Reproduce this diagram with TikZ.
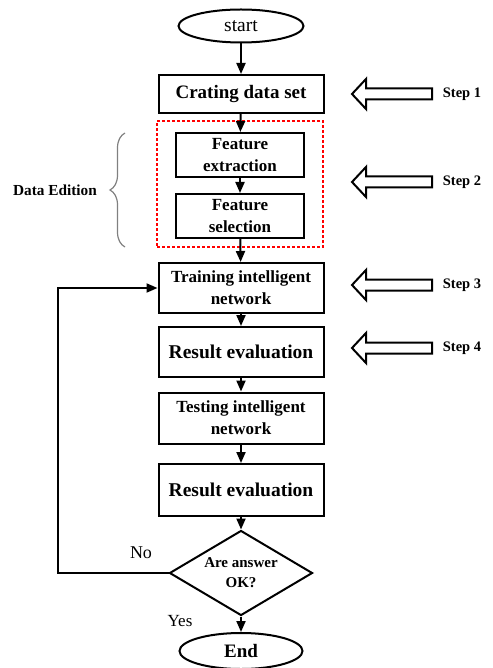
\documentclass[tikz,border=0pt]{standalone}
\usepackage{fontspec}
\setmainfont{Liberation Serif}
\usetikzlibrary{shapes.geometric,arrows.meta,decorations.pathreplacing}
\begin{document}
\begin{tikzpicture}[x=1pt,y=-1pt,
  box/.style={draw,line width=2pt,inner sep=0pt,align=center,font=\bfseries\fontsize{17}{22}\selectfont},
  wide/.style={box,minimum width=165pt},
  narrow/.style={box,minimum width=128pt,minimum height=44pt},
  oval/.style={draw,ellipse,line width=2pt,inner sep=0pt,minimum width=125pt,minimum height=33pt},
  arr/.style={line width=2pt,-{Triangle[length=11pt,width=9pt]}},
  steplbl/.style={font=\bfseries\fontsize{14.5}{16}\selectfont},
  hollow/.style={draw,line width=2pt,line join=miter}
]
\useasboundingbox (0,0) rectangle (492,668);
% main nodes
\node[oval,font=\fontsize{19.5}{22}\selectfont] (start) at (241,26) {start};
\node[wide,minimum height=38pt,font=\bfseries\fontsize{19}{22}\selectfont] (crate) at (241,94) {Crating data set};
\node[draw=red,dashed,dash pattern=on 3pt off 2pt,line width=1.8pt,minimum width=166pt,minimum height=126pt,inner sep=0pt] (grp) at (240,184) {};
\node[narrow] (fe) at (240,155) {Feature\\extraction};
\node[narrow] (fs) at (240,216) {Feature\\selection};
\node[wide,minimum height=50pt] (train) at (241,288) {Training intelligent\\network};
\node[wide,minimum height=50pt,font=\bfseries\fontsize{19.5}{22}\selectfont] (res1) at (241,352) {Result evaluation};
\node[wide,minimum height=51pt] (test) at (241,418) {Testing intelligent\\network};
\node[wide,minimum height=52pt,font=\bfseries\fontsize{19.5}{22}\selectfont] (res2) at (241,490) {Result evaluation};
\node[draw,diamond,aspect=1.68,line width=2pt,inner sep=0pt,minimum width=143pt,minimum height=85pt,align=center,font=\bfseries\fontsize{15}{20}\selectfont] (dec) at (241,573) {Are answer\\OK?};
\node[oval,minimum width=123pt,minimum height=36pt,font=\bfseries\fontsize{19}{22}\selectfont] (endn) at (241,651) {End};
% labels
\node[font=\fontsize{18}{20}\selectfont] (no) at (141,553) {No};
\node[font=\fontsize{17}{20}\selectfont] (yes) at (180,621) {Yes};
\node[font=\bfseries\fontsize{15.3}{18}\selectfont] (de) at (55,190) {Data Edition};
% brace
\draw[gray,line width=1.2pt,decorate,decoration={brace,amplitude=15pt}] (125,247) -- (125,133);
% connectors
\coordinate (loop) at (58,573);
\draw[arr] (start) -- (crate);
\draw[arr] (crate) -- (fe);
\draw[arr] (fe) -- (fs);
\draw[arr] (fs) -- (train);
\draw[arr] (train) -- (res1);
\draw[arr] (res1) -- (test);
\draw[arr] (test) -- (res2);
\draw[arr] (res2) -- (dec);
\draw[arr] (dec) -- (endn);
\draw[arr] (dec.west) -- (loop) |- (train.west);
% steps
\foreach \y/\t in {94/1,182/2,285/3,348/4}{
  \node[steplbl] (step\t) at (462,\y) {Step \t};
  \draw[hollow] (352,\y) -- (366,\y-15) -- (366,\y-5.5) -- (432,\y-5.5) -- (432,\y+5.5) -- (366,\y+5.5) -- (366,\y+15) -- cycle;
}
\end{tikzpicture}
\end{document}
